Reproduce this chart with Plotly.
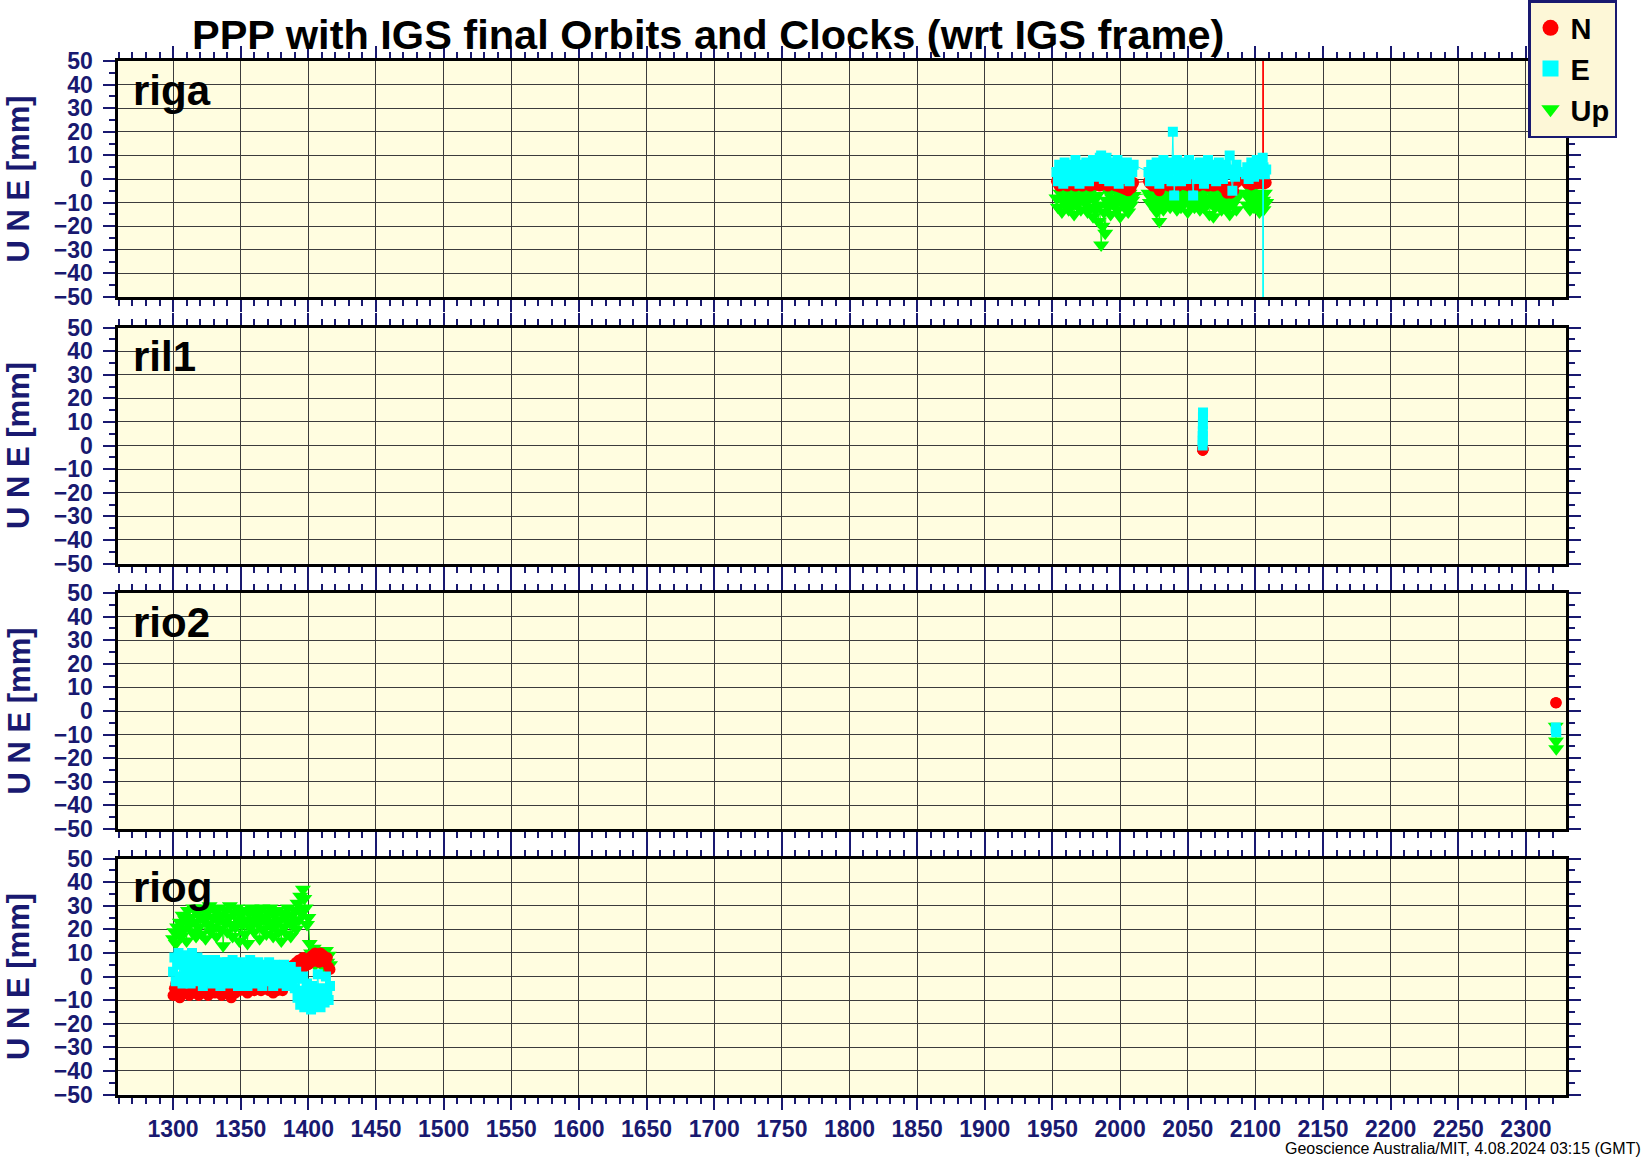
import plotly.graph_objects as go

# ---------------- data (GPS week, mm) ----------------
station_names = ["riga", "ril1", "rio2", "riog"]

riga_week = (list(range(1953, 2011)) + list(range(2021, 2088)) +
             [2093, 2094, 2095, 2096, 2097, 2098, 2099, 2100, 2101, 2102,
              2103, 2104, 2105, 2105.4, 2105.7, 2106, 2107, 2108])
riga_n = [-1, -2, -3, -1, -2, -1.5, -2.5, -1, -3, -2,
          -1, -2, -2.5, -1.5, -3, -1, -2, -2, -1, -3,
          -1.5, -2, -1, -2.5, -2, -3, -1, -2, -1.5, -2.5,
          -2, -1, -3, -2, -1.5, -2, -1, -2.5, -3, -1.5,
          -2, -1, -2.5, -2, -3, -1.5, -2, -3.5, -2.5, -4,
          -3, -4.5, -3, -5, -3.5, -4, -2.5, -1.5,
          -1, -2, -1.5, -3, -2, -1, -2.5, -4, -5, -3,
          -2, -1, -2.5, -1.5, -2, -3, -1, -2, -1.5, -2.5,
          -2, -1, -3, -2, -1.5, -2, -1, -2.5, -2, -1,
          -3, -2, -1.5, -2, -1, -2.5, -2, -3, -1.5, -2,
          -1, -2.5, -2, -1, -3, -2, -1.5, -2, -3, -2,
          -1, -2.5, -2, -1.5, -3, -2, -4, -3, -6, -5,
          -4, -6, -3, -5, -2, -1.5, -1,
          -1, -2, -1.5, -1, -2.5, -1, -2, -1.5, -1, -2,
          -1.5, -1, -2, -1.5, 400, -1, -2, -1.5]
riga_e = [3, -1, 6, 1, 4, -2, 7, 2, 5, 0,
          3, 6, -1, 4, 8, 1, 5, -2, 3, 6,
          0, 4, 7, 2, -1, 5, 3, 8, 1, 4,
          6, 2, 9, 10, 4, 0, 6, 9, 2, -1,
          5, 3, 7, 1, 4, 8, -2, 5, 2, 6,
          0, 4, 7, 2, -1, 5, 3, 6,
          3, -1, 6, 2, 5, 0, 7, 3, -2, 5,
          1, 8, 4, 0, 6, 2, 7, -1, 20, -7,
          4, 8, 1, 5, -1, 6, 3, 7, 0, 4,
          8, 2, 5, -7, 3, 6, 0, 4, 7, 1,
          5, -2, 6, 3, 8, 0, 4, 6, 1, 5,
          -1, 3, 7, 2, 5, 0, 4, 6, 2, 3,
          10, 3, -5, 4, 1, 6, 3,
          2, 5, 0, 4, 7, 3, 1, 5, 8, 2,
          4, 6, 3, 9, -400, 5, 2, 4]
riga_u = [-8, -12, 3, -6, -14, -9, -4, -11, -7, -13,
          -5, -10, -8, -15, -6, -11, -4, -9, -13, -7,
          2, -10, -6, -14, -8, -12, -5, -16, -9, -13,
          -7, -18, -11, -28, -20, -14, -23, -9, -12, -6,
          -15, -8, 3, -11, -5, -13, -9, -16, -7, -10,
          -4, -12, -8, -14, -6, -11, -9, -7,
          -6, -10, -8, 3, -12, -7, -14, -9, -18, -11,
          -5, -13, -8, 2, -10, -6, -12, -9, -4, -11,
          -7, -13, -9, -5, -12, -8, 3, -10, -6, -14,
          -9, -11, -5, -8, -12, 4, -7, -10, -13, -6,
          -9, -12, -5, -11, -8, -15, -10, -6, -16, -12,
          -8, -5, -11, -7, -13, -9, -6, -10, -4, -12,
          -15, -8, -11, -6, -9, -13, -7,
          -6, -11, -8, -13, -5, -9, -12, -7, -10, -6,
          -14, -8, -11, -7, -9, -13, -6, -10]

ril1_week = [2061.0, 2061.05, 2061.1, 2061.15, 2061.2, 2061.25, 2061.3]
ril1_n = [-2, -1.5, -2, -1, -1.5, -2, -1.5]
ril1_e = [0, 2, 4, 6, 9, 12, 14]
ril1_u = [None, None, None, None, None, None, None]

rio2_week = [2322.0, 2322.2, 2322.4]
rio2_n = [3.5, 3.5, 3.5]
rio2_e = [-7, -8, -9]
rio2_u = [-6.5, -12.7, -16]

riog_week = list(range(1300, 1417))
riog_n = [-8, -5, -3, -7, -4, -9, -2, -6, -4, -7,
          -3, -5, -8, -2, -6, -4, -7, -3, -5, -8,
          -2, -6, -4, -7, -3, -5, -8, -2, -4, -6,
          -3, -7, -5, -2, -6, -4, -8, -3, -5, -7,
          -2, -4, -6, -9, -3, -5, -7, -2, -4, -6,
          -3, -5, -2, -6, -4, -7, -3, -5, -2, -4,
          -6, -3, -5, -2, -4, -6, -3, -1, -5, -2,
          -4, -6, -3, -5, -7, -2, -4, -6, -3, -5,
          -2, -6, 0, -3, 2, -1, 4, 1, 3, 5,
          2, 6, 4, 7, 3, 5, 8, 4, 6, 7,
          5, 8, 6, 9, 7, 10, 8, 9, 6, 10,
          8, 9, 7, 6, 8, 4, 3]
riog_e = [2, 8, -2, 5, 10, 0, 6, -3, 9, 3,
          -1, 7, 4, -3, 10, 1, 6, -2, 8, 3,
          -1, 5, -4, 2, 7, -2, 4, 0, 6, -3,
          3, 7, -1, 2, 5, -4, 1, 6, -2, 3,
          6, 0, -3, 4, 7, -1, 2, 5, -4, 1,
          6, -2, 3, 5, 0, -4, 4, 7, 1, -2,
          5, 2, -3, 6, 0, 3, -4, 5, 1, -2,
          4, 6, -1, 2, -4, 5, 0, 3, -3, 4,
          1, -2, 5, 2, -4, 3, 0, 4, -3, 1,
          -5, 2, -9, -1, -12, -6, 0, -13, -8, -3,
          -11, -7, -14, -4, -9, -12, -6, 1, -10, -13,
          -5, -8, -11, 0, -7, -10, -4]
riog_u = [16, 19, 14, 21, 18, 23, 17, 26, 20, 24,
          15, 28, 22, 25, 19, 29, 23, 17, 27, 21,
          25, 18, 29, 24, 16, 27, 22, 30, 19, 25,
          21, 28, 17, 24, 29, 20, 26, 13, 23, 28,
          19, 25, 30, 22, 17, 27, 21, 29, 24, 15,
          26, 22, 28, 18, 24, 14, 27, 21, 29, 23,
          19, 26, 28, 22, 16, 25, 29, 20, 24, 18,
          27, 23, 29, 21, 17, 26, 22, 28, 19, 24,
          15, 27, 21, 25, 18, 29, 23, 17, 26, 22,
          28, 20, 31, 24, 34, 27, 37, 33, 29, 22,
          25, 14, 10, 7, 12, 5, 9, 11, 6, 8,
          10, 4, 7, 11, 6, 9, 5]

components = ["N", "E", "Up"]
x_range = [1259.6, 2329.6]
y_range = [-50, 50]

# ---------------- styling ----------------
NAVY = "#191970"
BG = "#FFFDE0"
GRID = "#3c3c3c"
COL = {"N": "#FF0000", "E": "#00FFFF", "Up": "#00FF00"}
SYM = {"N": "circle", "E": "square", "Up": "triangle-down"}
SIZE = {"N": 11, "E": 10, "Up": 14}
FONT = "Liberation Sans, Arial, Helvetica, sans-serif"

data = {
    "riga": (riga_week, riga_n, riga_e, riga_u),
    "ril1": (ril1_week, ril1_n, ril1_e, ril1_u),
    "rio2": (rio2_week, rio2_n, rio2_e, rio2_u),
    "riog": (riog_week, riog_n, riog_e, riog_u),
}
for st, arrs in data.items():
    assert all(len(a) == len(arrs[0]) for a in arrs), st

H = 1158.0
tops = [61, 327.5, 593, 858.5]
ph = 236.0
domains = [[1 - (t + ph) / H, 1 - t / H] for t in tops]

fig = go.Figure()

for k, st in enumerate(station_names):
    w, n, e, u = data[st]
    sfx = "" if k == 0 else str(k + 1)
    # draw order: Up, N, E (E on top)
    for comp, vals in (("Up", u), ("N", n), ("E", e)):
        fig.add_trace(go.Scatter(
            x=w, y=vals, mode="lines+markers", name=comp,
            marker=dict(symbol=SYM[comp], size=SIZE[comp], color=COL[comp], line=dict(width=0)),
            line=dict(color=COL[comp], width=1),
            xaxis="x" + sfx, yaxis="y" + sfx, showlegend=False, hoverinfo="x+y"))

# legend-only entries
for rank, comp in enumerate(components):
    fig.add_trace(go.Scatter(
        x=[None], y=[None], mode="markers", name=comp,
        marker=dict(symbol=SYM[comp], size=16, color=COL[comp], line=dict(width=0)),
        xaxis="x", yaxis="y", showlegend=True, legendrank=rank + 1))

layout = dict(
    width=1644, height=1158,
    margin=dict(l=0, r=0, t=0, b=0, autoexpand=False),
    paper_bgcolor="white", plot_bgcolor=BG,
    showlegend=True,
    legend=dict(x=1617 / 1644, xanchor="right", y=1.0, yanchor="top",
                bgcolor="#FDF7D7", bordercolor=NAVY, borderwidth=2.5,
                font=dict(family=FONT, size=29, color="black", weight="bold"),
                tracegroupgap=0, itemsizing="trace"),
    annotations=[],
)

for k, st in enumerate(station_names):
    sfx = "" if k == 0 else str(k + 1)
    xa = dict(
        domain=[118.4 / 1644, 1566 / 1644], range=x_range, anchor="y" + sfx,
        tick0=1300, dtick=50, ticks="outside", ticklen=12, tickwidth=2, tickcolor=NAVY,
        showgrid=True, gridcolor=GRID, gridwidth=1.2, zeroline=False,
        showline=True, linecolor="black", linewidth=3, mirror="ticks",
        minor=dict(dtick=10, ticks="outside", ticklen=6, tickwidth=1.5, tickcolor=NAVY, showgrid=False),
        showticklabels=(k == 3), automargin=False,
        tickfont=dict(family=FONT, size=23, color=NAVY, weight="bold"),
        ticklabelstandoff=0,
    )
    if k > 0:
        xa["matches"] = "x"
    ya = dict(
        domain=domains[k], range=y_range, anchor="x" + sfx,
        tick0=0, dtick=10, ticks="outside", ticklen=12, tickwidth=2, tickcolor=NAVY,
        showgrid=True, gridcolor=GRID, gridwidth=1.2, zeroline=False,
        showline=True, linecolor="black", linewidth=3, mirror="ticks",
        minor=dict(dtick=5, ticks="outside", ticklen=6, tickwidth=1.5, tickcolor=NAVY, showgrid=False),
        automargin=False,
        tickfont=dict(family=FONT, size=23, color=NAVY, weight="bold"),
        ticklabelstandoff=6,
    )
    layout["xaxis" + sfx] = xa
    layout["yaxis" + sfx] = ya
    layout["annotations"].append(dict(
        text=st, xref="x" + sfx + " domain", yref="y" + sfx + " domain",
        x=0.0085, y=0.877, xanchor="left", yanchor="middle", showarrow=False,
        font=dict(family=FONT, size=42, color="black", weight="bold")))
    layout["annotations"].append(dict(
        text="U N E [mm]", xref="paper", yref="paper",
        x=0.0, y=(domains[k][0] + domains[k][1]) / 2, xanchor="left", yanchor="middle",
        textangle=-90, showarrow=False, borderpad=0,
        font=dict(family=FONT, size=31, color=NAVY, weight="bold")))

layout["annotations"].append(dict(
    text="PPP with IGS final Orbits and Clocks (wrt IGS frame)", xref="paper", yref="paper",
    x=708 / 1644, y=1 - 34.6 / H, xanchor="center", yanchor="middle", showarrow=False,
    font=dict(family=FONT, size=41.5, color="black", weight="bold")))
layout["annotations"].append(dict(
    text="Geoscience Australia/MIT, 4.08.2024 03:15 (GMT)", xref="paper", yref="paper",
    x=1643 / 1644, y=1 - 1148 / H, xanchor="right", yanchor="middle", showarrow=False,
    font=dict(family=FONT, size=16, color="black")))

fig.update_layout(**layout)
fig.write_html("out.html", config={"displayModeBar": False},
               post_script="document.body.style.margin='0px';document.body.style.overflow='hidden';")
